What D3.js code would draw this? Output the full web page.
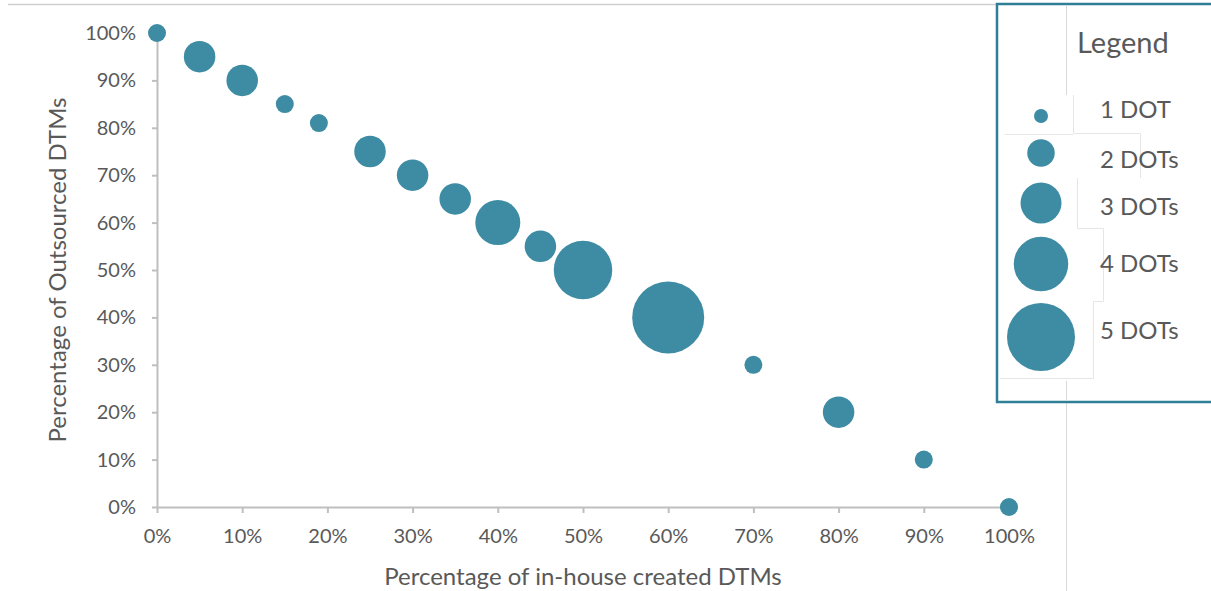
<!DOCTYPE html>
<html>
<head>
<meta charset="utf-8">
<script src="https://cdn.jsdelivr.net/npm/d3@7/dist/d3.min.js"></script>
<style>
  html, body { margin: 0; padding: 0; background: #fff; }
  svg { display: block; font-family: Lato, "Open Sans", sans-serif; }
</style>
</head>
<body>
<svg id="chart" width="1211" height="591"></svg>
<script>
// Share of in-house vs outsourced DTMs per group, bubble size = number of DOTs
const inHouse    = [0, 5, 10, 15, 19, 25, 30, 35, 40, 45, 50, 60, 70, 80, 90, 100];
const outsourced = [100, 95, 90, 85, 81, 75, 70, 65, 60, 55, 50, 40, 30, 20, 10, 0];
const dotCount   = [1, 2, 2, 1, 1, 2, 2, 2, 3, 2, 4, 5, 1, 2, 1, 1];

const xTicks = [0, 10, 20, 30, 40, 50, 60, 70, 80, 90, 100];
const yTicks = [0, 10, 20, 30, 40, 50, 60, 70, 80, 90, 100];

const legendCounts = [1, 2, 3, 4, 5];
const legendLabels = ["1 DOT", "2 DOTs", "3 DOTs", "4 DOTs", "5 DOTs"];

const xTitle = "Percentage of in-house created DTMs";
const yTitle = "Percentage of Outsourced DTMs";

const dotColor = "#3d8ca3";
const axisColor = "#bfbfbf";
const textColor = "#595959";

const svg = d3.select("#chart");

const x = d3.scaleLinear().domain([0, 100]).range([157, 1009]);
const y = d3.scaleLinear().domain([0, 100]).range([507, 33]);
const r = d3.scaleLinear().domain([1, 5]).range([9, 36]);
const rLegend = d3.scaleLinear().domain([1, 5]).range([7, 34]);

// frame lines
svg.append("line")
  .attr("x1", 8).attr("x2", 997).attr("y1", 4.5).attr("y2", 4.5)
  .attr("stroke", "#cfcfcf").attr("stroke-width", 1.5);
svg.append("line")
  .attr("x1", 1066.5).attr("x2", 1066.5).attr("y1", 5).attr("y2", 591)
  .attr("stroke", "#d9d9d9").attr("stroke-width", 1);

const pct = d => d + "%";

// axes
const xAxis = svg.append("g")
  .attr("transform", `translate(0,${y(0)})`)
  .call(d3.axisBottom(x).tickValues(xTicks).tickFormat(pct).tickSize(6).tickPadding(16).tickSizeOuter(0));
const yAxis = svg.append("g")
  .attr("transform", `translate(${x(0)},0)`)
  .call(d3.axisLeft(y).tickValues(yTicks).tickFormat(pct).tickSize(5).tickPadding(16).tickSizeOuter(0));

[xAxis, yAxis].forEach(g => {
  g.select(".domain").attr("stroke", axisColor).attr("stroke-width", 2);
  g.selectAll(".tick line").attr("stroke", axisColor).attr("stroke-width", 2);
  g.selectAll(".tick text")
    .attr("fill", textColor)
    .style("font-size", "20px")
    .style("font-family", "Lato, sans-serif");
});

// axis titles
svg.append("text")
  .attr("x", (x(0) + x(100)) / 2).attr("y", 585)
  .attr("text-anchor", "middle")
  .attr("fill", textColor)
  .style("font-size", "24px")
  .text(xTitle);
svg.append("text")
  .attr("transform", `translate(66,${(y(0) + y(100)) / 2}) rotate(-90)`)
  .attr("text-anchor", "middle")
  .attr("fill", textColor)
  .style("font-size", "24px")
  .text(yTitle);

// bubbles
const points = inHouse.map((v, i) => ({ x: v, y: outsourced[i], n: dotCount[i] }));
svg.append("g")
  .selectAll("circle")
  .data(points)
  .join("circle")
  .attr("cx", d => x(d.x))
  .attr("cy", d => y(d.y))
  .attr("r", d => r(d.n))
  .attr("fill", dotColor);

// legend
const legend = svg.append("g");
legend.append("rect")
  .attr("x", 997).attr("y", 4).attr("width", 230).attr("height", 398)
  .attr("fill", "#fff").attr("stroke", "#2f8096").attr("stroke-width", 2.5);
legend.append("line")
  .attr("x1", 1066.5).attr("x2", 1066.5).attr("y1", 6).attr("y2", 95)
  .attr("stroke", "#d9d9d9");
legend.append("line")
  .attr("x1", 1066.5).attr("x2", 1066.5).attr("y1", 381).attr("y2", 401)
  .attr("stroke", "#d9d9d9");

// faint outlines of the pasted legend entries
const seams = [
  [[1073.5, 95], [1073.5, 133.5], [1140.5, 133.5], [1140.5, 178]],
  [[1005, 134.5], [1073, 134.5]],
  [[1077.5, 178], [1077.5, 228.5], [1103.5, 228.5], [1103.5, 301.5], [1093.5, 301.5], [1093.5, 378.5], [1000, 378.5]]
];
legend.selectAll("path.seam")
  .data(seams)
  .join("path")
  .attr("class", "seam")
  .attr("d", d3.line())
  .attr("fill", "none")
  .attr("stroke", "#e6e6e6")
  .attr("stroke-width", 1);

legend.append("text")
  .attr("x", 1077).attr("y", 53)
  .attr("fill", textColor)
  .style("font-size", "29px")
  .text("Legend");

const rowCy = [116, 153, 203, 264, 337];
const rowBaseline = [118, 168, 215, 272, 339];
const rows = legend.selectAll("g.row")
  .data(legendCounts)
  .join("g").attr("class", "row");
rows.append("circle")
  .attr("cx", 1041)
  .attr("cy", (d, i) => rowCy[i])
  .attr("r", d => rLegend(d))
  .attr("fill", dotColor);
rows.append("text")
  .attr("x", 1100)
  .attr("y", (d, i) => rowBaseline[i])
  .attr("fill", textColor)
  .style("font-size", "24px")
  .text((d, i) => legendLabels[i]);
</script>
</body>
</html>
